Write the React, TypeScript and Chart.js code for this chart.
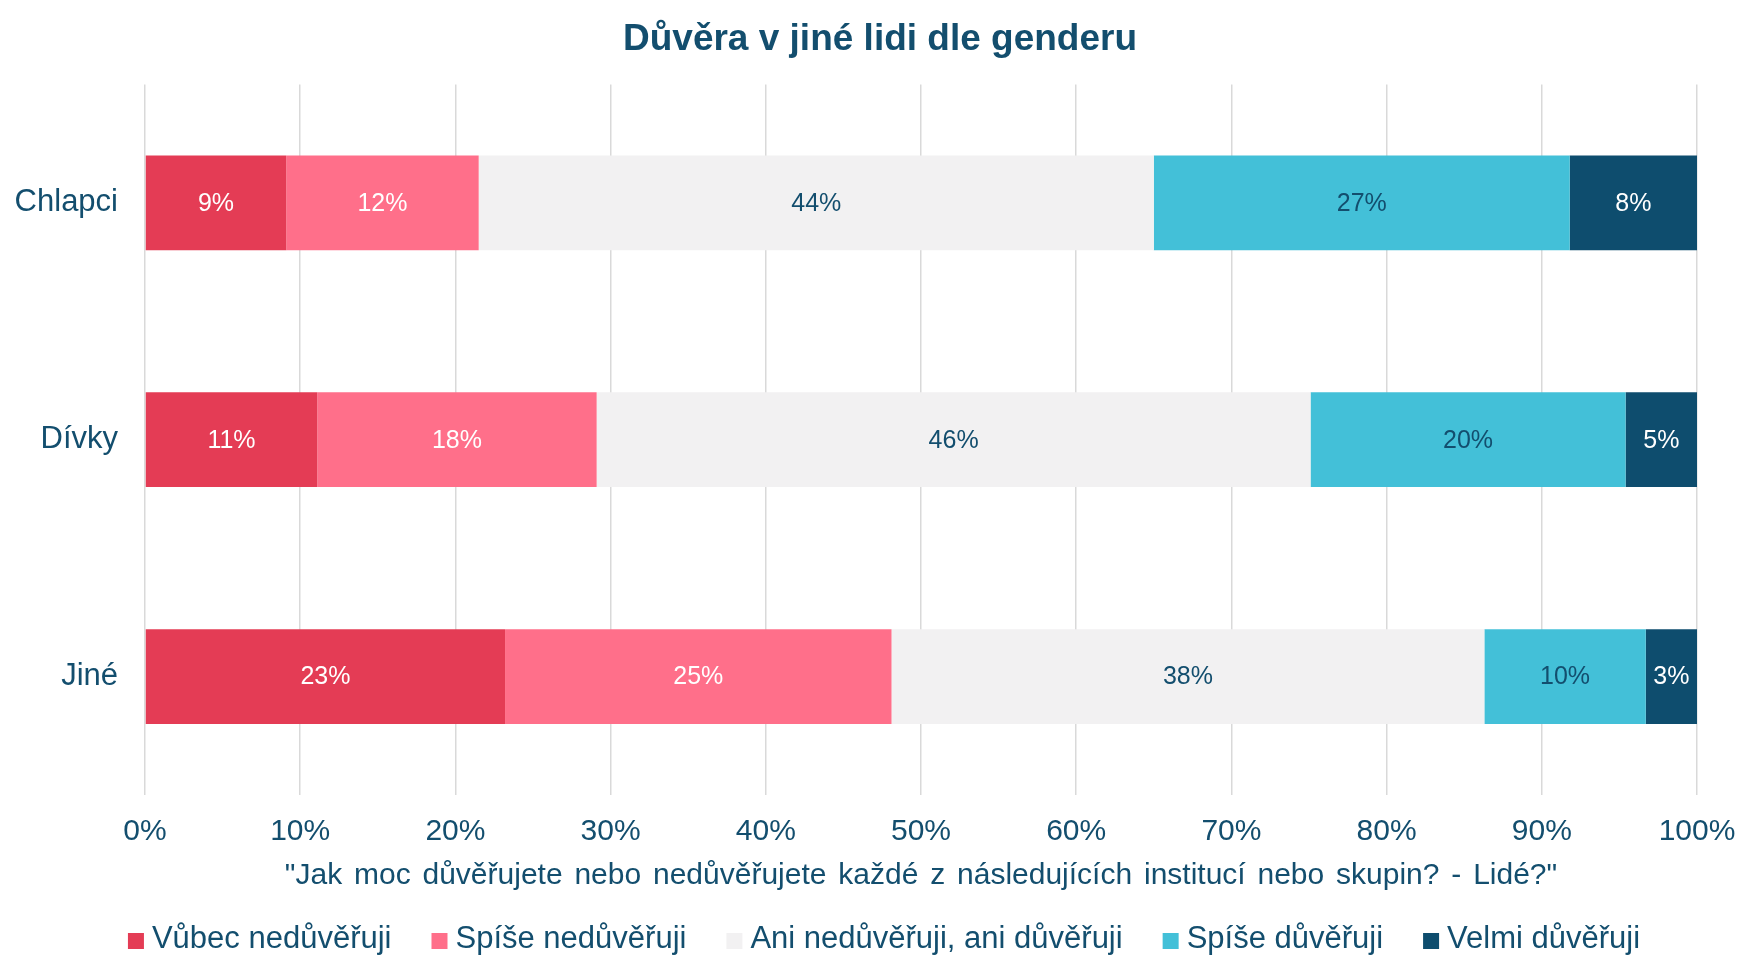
import React, { useEffect, useRef } from "react";
import { Chart, registerables } from "chart.js";

Chart.register(...registerables);

const categories = ["Chlapci", "Dívky", "Jiné"];
const seriesNames = [
  "Vůbec nedůvěřuji",
  "Spíše nedůvěřuji",
  "Ani nedůvěřuji, ani důvěřuji",
  "Spíše důvěřuji",
  "Velmi důvěřuji",
];
const vubecNeduveruji = [9.1, 11.1, 23.2];
const spiseNeduveruji = [12.4, 18.0, 24.9];
const aniAni = [43.5, 46.0, 38.2];
const spiseDuveruji = [26.8, 20.3, 10.4];
const velmiDuveruji = [8.2, 4.6, 3.3];
const xTicks = [0, 10, 20, 30, 40, 50, 60, 70, 80, 90, 100];
const titleText = "Důvěra v jiné lidi dle genderu";
const axisTitleText =
  '"Jak moc důvěřujete nebo nedůvěřujete každé z následujících institucí nebo skupin? - Lidé?"';

const colors = ["#E43C55", "#FF6F8A", "#F2F1F2", "#43C0D8", "#0E4D6E"];
const labelColors = ["#FFFFFF", "#FFFFFF", "#134E6E", "#134E6E", "#FFFFFF"];
const NAVY = "#134E6E";
const FONT = "'Liberation Sans', Arial, sans-serif";

const barLabelPlugin = {
  id: "barLabels",
  afterDatasetsDraw(chart: any) {
    const ctx = chart.ctx;
    ctx.save();
    ctx.font = `25px ${FONT}`;
    ctx.textAlign = "center";
    ctx.textBaseline = "middle";
    chart.data.datasets.forEach((ds: any, di: number) => {
      const meta = chart.getDatasetMeta(di);
      meta.data.forEach((bar: any, i: number) => {
        const v = ds.data[i];
        const cx = (bar.x + bar.base) / 2;
        ctx.fillStyle = labelColors[di];
        ctx.fillText(Math.round(v) + "%", cx, bar.y + 1);
      });
    });
    ctx.restore();
  },
};

const bottomTextPlugin = {
  id: "bottomText",
  afterDraw(chart: any) {
    const ctx = chart.ctx;
    const area = chart.chartArea;
    ctx.save();
    // axis title
    ctx.font = `30px ${FONT}`;
    ctx.fillStyle = NAVY;
    ctx.textAlign = "center";
    ctx.textBaseline = "alphabetic";
    try {
      (ctx as any).wordSpacing = "3.5px";
    } catch (e) {}
    ctx.fillText(axisTitleText, (area.left + area.right) / 2, area.bottom + 89);
    try {
      (ctx as any).wordSpacing = "0px";
    } catch (e) {}
    // legend
    ctx.font = `31px ${FONT}`;
    ctx.textAlign = "left";
    const box = 16;
    const gapBoxText = 8;
    const gapItems = 40;
    const items = chart.data.datasets.map((ds: any) => ({
      text: ds.label,
      color: ds.backgroundColor,
      w: ctx.measureText(ds.label).width,
    }));
    const total =
      items.reduce((s: number, it: any) => s + box + gapBoxText + it.w, 0) +
      gapItems * (items.length - 1);
    let x = chart.width / 2 - total / 2 + 4;
    const baseY = area.bottom + 153;
    items.forEach((it: any) => {
      ctx.fillStyle = it.color;
      ctx.fillRect(x, baseY - 15, box, box);
      x += box + gapBoxText;
      ctx.fillStyle = NAVY;
      ctx.fillText(it.text, x, baseY);
      x += it.w + gapItems;
    });
    ctx.restore();
  },
};

export default function App() {
  const ref = useRef<HTMLCanvasElement | null>(null);
  useEffect(() => {
    if (!ref.current) return;
    const values = [vubecNeduveruji, spiseNeduveruji, aniAni, spiseDuveruji, velmiDuveruji];
    const chart = new Chart(ref.current, {
      type: "bar",
      data: {
        labels: categories,
        datasets: values.map((d, i) => ({
          label: seriesNames[i],
          data: d,
          backgroundColor: colors[i],
          borderWidth: 0,
          categoryPercentage: 0.4,
          barPercentage: 1,
        })),
      },
      options: {
        indexAxis: "y",
        animation: false,
        responsive: false,
        maintainAspectRatio: false,
        layout: { padding: { left: 0, right: 0, top: 0, bottom: 0 } },
        plugins: {
          title: {
            display: true,
            text: titleText,
            color: NAVY,
            font: { family: FONT, size: 37, weight: "bold" },
            padding: { top: 18, bottom: 22 },
          },
          legend: { display: false },
          tooltip: { enabled: false },
        },
        scales: {
          x: {
            stacked: true,
            min: 0,
            max: 100,
            afterBuildTicks(scale: any) {
              scale.ticks = xTicks.map((v) => ({ value: v }));
            },
            ticks: {
              color: NAVY,
              font: { family: FONT, size: 30 },
              callback: (v: any) => v + "%",
              padding: 19,
              maxRotation: 0,
            },
            grid: { color: "#D9D9D9", lineWidth: 1.5, drawTicks: false },
            border: { display: false },
            afterFit(scale: any) {
              scale.height = 182;
              scale.paddingRight = 63;
            },
          },
          y: {
            stacked: true,
            grid: { display: false, drawTicks: false },
            border: { display: false },
            ticks: {
              color: NAVY,
              font: { family: FONT, size: 31 },
              padding: 27,
            },
            afterFit(scale: any) {
              scale.width = 145;
            },
          },
        },
      },
      plugins: [barLabelPlugin, bottomTextPlugin],
    } as any);
    return () => chart.destroy();
  }, []);
  return (
    <div style={{ position: "fixed", left: 0, top: 0, width: 1760, height: 977, background: "#fff" }}>
      <canvas ref={ref} width={1760} height={977} style={{ width: 1760, height: 977 }} />
    </div>
  );
}
